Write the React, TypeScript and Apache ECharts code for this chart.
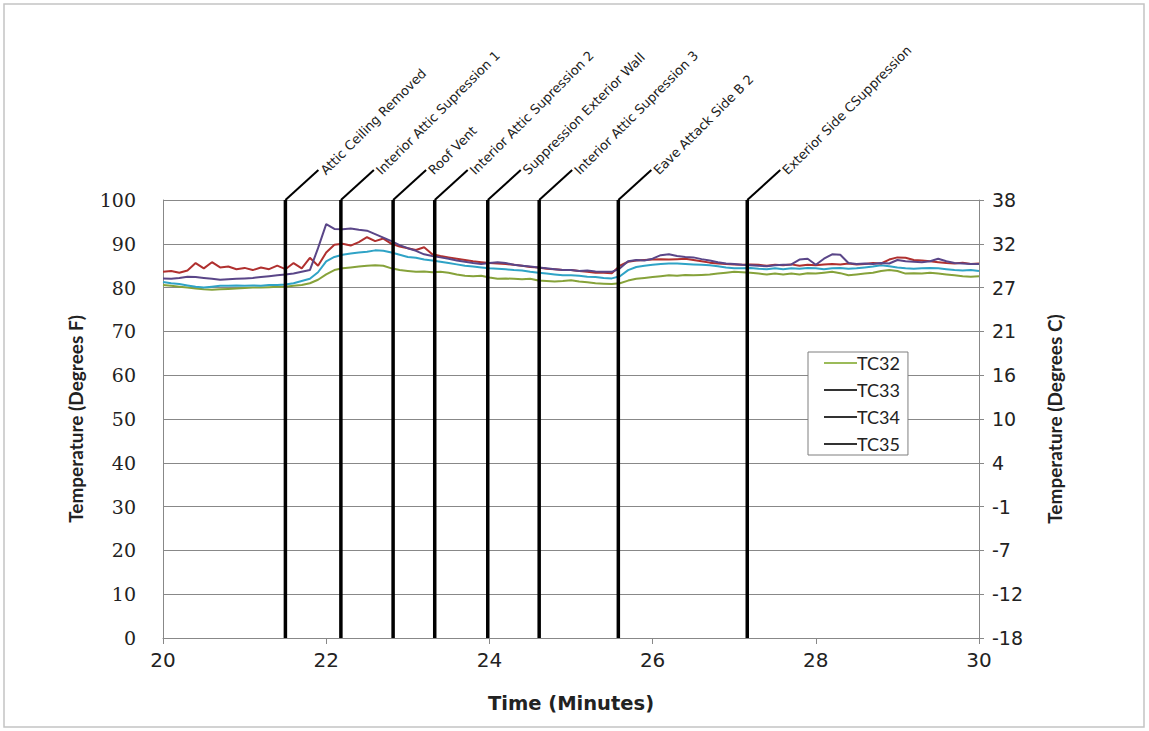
import React, { useEffect, useRef } from "react";
import * as echarts from "echarts";

const SERIES_NAMES = ["TC32", "TC33", "TC34", "TC35"];
const COLORS: Record<string, string> = {
  TC32: "#86a23a",
  TC33: "#5a4688",
  TC34: "#2fa3c6",
  TC35: "#b0302f",
};
const LEGEND_COLORS: Record<string, string> = {
  TC32: "#9bbb59",
  TC33: "#333333",
  TC34: "#333333",
  TC35: "#333333",
};

// Values every 0.1 minute from 20.0 to 30.0 (degrees F)
const TC32 = [
  80.6, 80.4, 80.2, 80.0, 79.8, 79.6, 79.5, 79.6, 79.7, 79.8, 79.9,
  80.0, 80.0, 80.1, 80.2, 80.2, 80.4, 80.6, 81.0, 81.8, 83.0,
  84.0, 84.4, 84.6, 84.8, 85.0, 85.1, 85.0, 84.4, 84.0, 83.8,
  83.6, 83.7, 83.5, 83.6, 83.4, 83.0, 82.7, 82.6, 82.7, 82.3,
  82.0, 82.1, 82.0, 81.9, 82.0, 81.6, 81.5, 81.4, 81.5, 81.7,
  81.4, 81.2, 81.0, 80.9, 80.8, 81.0, 81.6, 82.0, 82.2, 82.4,
  82.6, 82.8, 82.7, 82.9, 82.8, 82.9, 83.0, 83.2, 83.4, 83.6,
  83.5, 83.4, 83.2, 83.0, 83.2, 83.0, 83.2, 83.0, 83.3, 83.2,
  83.4, 83.6, 83.3, 82.8, 83.0, 83.2, 83.4, 83.8, 84.0, 83.8,
  83.2, 83.3, 83.2, 83.4, 83.2, 83.0, 82.8, 82.6, 82.5, 82.6,
];
const TC33 = [
  82.1, 82.0, 82.2, 82.5, 82.4, 82.2, 82.0, 81.8, 81.9, 82.0, 82.1,
  82.2, 82.4, 82.6, 82.8, 83.0, 83.2, 83.6, 84.0, 89.0, 94.5,
  93.4, 93.3, 93.5, 93.2, 93.0, 92.2, 91.4, 90.6, 89.7, 89.0,
  88.4, 87.6, 87.2, 86.9, 86.6, 86.2, 85.9, 85.6, 85.4, 85.6,
  85.8, 85.6, 85.2, 85.0, 84.8, 84.6, 84.4, 84.2, 84.0, 84.0,
  83.8, 83.9, 83.7, 83.6, 83.6, 84.4, 86.0, 86.3, 86.2, 86.6,
  87.4, 87.6, 87.2, 87.0, 86.9, 86.5, 86.2, 85.8, 85.5, 85.4,
  85.2, 85.1, 85.0, 84.9, 85.1, 85.2, 85.3, 86.4, 86.6, 85.2,
  86.6, 87.6, 87.5, 85.6, 85.4, 85.5, 85.4, 85.6, 85.5, 86.3,
  86.0, 85.9, 85.8, 86.0, 86.6, 86.0, 85.6, 85.5, 85.4, 85.4,
];
const TC34 = [
  81.3, 81.0, 80.8, 80.5, 80.2, 80.0, 80.2, 80.4, 80.4, 80.5, 80.4,
  80.5, 80.4, 80.6, 80.6, 80.7, 81.0, 81.5, 82.0, 83.5, 86.0,
  87.0, 87.5, 87.8, 88.0, 88.2, 88.5, 88.4, 88.0, 87.5, 87.0,
  86.8, 86.4, 86.2, 85.9, 85.6, 85.3, 85.0, 84.8, 84.6, 84.4,
  84.3, 84.2, 84.0, 83.9, 83.6, 83.4, 83.2, 83.0, 82.8, 82.8,
  82.7, 82.5, 82.4, 82.2, 82.1, 82.6, 84.0, 84.7, 85.0, 85.2,
  85.4, 85.5, 85.5, 85.4, 85.3, 85.2, 85.1, 84.9, 84.6, 84.4,
  84.4, 84.5, 84.3, 84.2, 84.4, 84.2, 84.4, 84.3, 84.5, 84.4,
  84.2, 84.4, 84.5, 84.3, 84.4, 84.6, 84.8, 85.1, 84.9, 84.6,
  84.4, 84.3, 84.4, 84.5, 84.4, 84.2, 84.0, 83.9, 84.0, 83.8,
];
const TC35 = [
  83.6, 83.8, 83.4, 83.9, 85.6, 84.4, 85.8, 84.6, 84.8, 84.2, 84.5,
  84.0, 84.6, 84.2, 85.0, 84.2, 85.6, 84.4, 86.8, 85.0, 88.0,
  89.8, 90.0, 89.6, 90.4, 91.5, 90.6, 91.2, 90.0, 89.4, 89.0,
  88.6, 89.2, 87.6, 87.2, 86.9, 86.6, 86.3, 86.0, 85.8, 85.6,
  85.5, 85.4, 85.2, 85.0, 84.7, 84.6, 84.3, 84.2, 84.0, 84.0,
  83.8, 83.6, 83.4, 83.4, 83.3, 85.0, 85.9, 86.2, 86.3, 86.4,
  86.5, 86.4, 86.5, 86.6, 86.3, 86.0, 85.7, 85.5, 85.4, 85.3,
  85.2, 85.3, 85.2, 85.0, 85.2, 85.1, 85.3, 85.0, 85.2, 85.1,
  85.3, 85.4, 85.3, 85.5, 85.3, 85.4, 85.6, 85.5, 86.4, 86.9,
  86.8, 86.3, 86.2, 86.0, 85.8, 85.6, 85.5, 85.7, 85.4, 85.5,
];

const TIME_START = 20;
const TIME_STEP = 0.1;

const EVENT_TIMES = [21.5, 22.18, 22.82, 23.33, 23.98, 24.61, 25.58, 27.16];
const EVENT_LABELS = [
  "Attic Ceiling Removed",
  "Interior Attic Supression 1",
  "Roof Vent",
  "Interior Attic Supression 2",
  "Suppression Exterior Wall",
  "Interior Attic Supression 3",
  "Eave Attack Side B 2",
  "Exterior Side CSuppression",
];

const X_TICKS = [20, 22, 24, 26, 28, 30];

const SANS = "Lato, 'Open Sans', sans-serif";
const WIDE = "'DejaVu Sans', sans-serif";

function toPairs(values: number[]) {
  return values.map((v, i) => [+(TIME_START + i * TIME_STEP).toFixed(1), v]);
}

export default function App() {
  const ref = useRef<HTMLDivElement>(null);

  useEffect(() => {
    if (!ref.current) return;
    const chart = echarts.init(ref.current, undefined, { renderer: "svg" });
    const dataMap: Record<string, number[]> = { TC32, TC33, TC34, TC35 };
    const drawOrder = ["TC32", "TC34", "TC35", "TC33"];

    const lineSeries = drawOrder.map((name) => ({
      name,
      type: "line",
      data: toPairs(dataMap[name]),
      showSymbol: false,
      symbol: "none",
      lineStyle: { color: COLORS[name], width: 2 },
      itemStyle: { color: COLORS[name] },
      z: 2,
    }));

    const eventSeries = {
      name: "events",
      type: "custom",
      clip: false,
      z: 5,
      silent: true,
      data: EVENT_TIMES.map((t, i) => [t, 0, i]),
      renderItem: (params: any, api: any) => {
        const t = api.value(0);
        const idx = api.value(2);
        const top = api.coord([t, 100]);
        const bottom = api.coord([t, 0]);
        const dx = 33;
        const dy = -30;
        return {
          type: "group",
          children: [
            {
              type: "line",
              shape: { x1: top[0], y1: top[1], x2: bottom[0], y2: bottom[1] },
              style: { stroke: "#000", lineWidth: 3.5 },
            },
            {
              type: "line",
              shape: { x1: top[0], y1: top[1], x2: top[0] + dx, y2: top[1] + dy },
              style: { stroke: "#000", lineWidth: 2 },
            },
            {
              type: "text",
              x: top[0] + dx + 9,
              y: top[1] + dy + 7,
              rotation: (45 * Math.PI) / 180,
              style: {
                text: EVENT_LABELS[idx],
                fill: "#222",
                fontSize: 13,
                fontFamily: WIDE,
                align: "left",
                verticalAlign: "bottom",
              },
            },
          ],
        };
      },
    };

    chart.setOption({
      animation: false,
      backgroundColor: "#ffffff",
      graphic: [
        {
          type: "rect",
          shape: { x: 4, y: 4, width: 1140, height: 723 },
          style: { fill: "none", stroke: "#c4c4c4", lineWidth: 1.5 },
          silent: true,
          z: -1,
        },
      ],
      grid: { left: 163, right: 170, top: 200, height: 438 },
      legend: {
        data: SERIES_NAMES.map((n) => ({
          name: n,
          itemStyle: { color: LEGEND_COLORS[n] },
        })),
        orient: "vertical",
        left: 808,
        top: 352,
        icon: "rect",
        itemWidth: 33,
        itemHeight: 2,
        itemGap: 9,
        padding: [2, 8, 2, 16],
        backgroundColor: "#ffffff",
        borderColor: "#7f7f7f",
        borderWidth: 1,
        textStyle: { fontSize: 18, fontFamily: SANS, color: "#222", padding: [0, 0, 0, -5] },
        selectedMode: false,
      },
      xAxis: {
        type: "value",
        min: 20,
        max: 30,
        interval: 2,
        name: "Time (Minutes)",
        nameLocation: "middle",
        nameGap: 55,
        nameTextStyle: { fontSize: 19.5, fontWeight: "bold", fontFamily: WIDE, color: "#222" },
        axisLine: { show: true, lineStyle: { color: "#888", width: 1 } },
        axisTick: { show: true, inside: false, length: 6, lineStyle: { color: "#888" } },
        axisLabel: {
          fontSize: 20,
          fontFamily: WIDE,
          color: "#222",
          margin: 12,
          customValues: X_TICKS,
        },
        splitLine: { show: false },
      },
      yAxis: [
        {
          type: "value",
          min: 0,
          max: 100,
          interval: 10,
          position: "left",
          name: "Temperature (Degrees F)",
          nameLocation: "middle",
          nameRotate: 90,
          nameGap: 78,
          nameTextStyle: { fontSize: 19, fontWeight: "bold", fontFamily: SANS, color: "#222" },
          axisLine: { show: true, lineStyle: { color: "#888", width: 1 } },
          axisTick: { show: false },
          axisLabel: {
            fontSize: 19,
            fontFamily: "'DejaVu Serif', serif",
            color: "#222",
            margin: 27,
          },
          splitLine: { show: true, lineStyle: { color: "#888", width: 1 } },
        },
        {
          type: "value",
          min: 0,
          max: 100,
          interval: 10,
          position: "right",
          name: "Temperature (Degrees C)",
          nameLocation: "middle",
          nameRotate: 90,
          nameGap: 66,
          nameTextStyle: { fontSize: 19, fontWeight: "bold", fontFamily: SANS, color: "#222" },
          axisLine: { show: true, lineStyle: { color: "#888", width: 1 } },
          axisTick: { show: true, inside: false, length: 5, lineStyle: { color: "#888" } },
          axisLabel: {
            fontSize: 19,
            fontFamily: WIDE,
            color: "#222",
            margin: 13,
            formatter: (v: number) => String(Math.round(((v - 32) * 5) / 9)),
          },
          splitLine: { show: false },
        },
      ],
      series: [...lineSeries, eventSeries],
    });

    return () => chart.dispose();
  }, []);

  return (
    <div
      ref={ref}
      style={{ position: "absolute", left: 0, top: 0, width: 1149, height: 731 }}
    />
  );
}
